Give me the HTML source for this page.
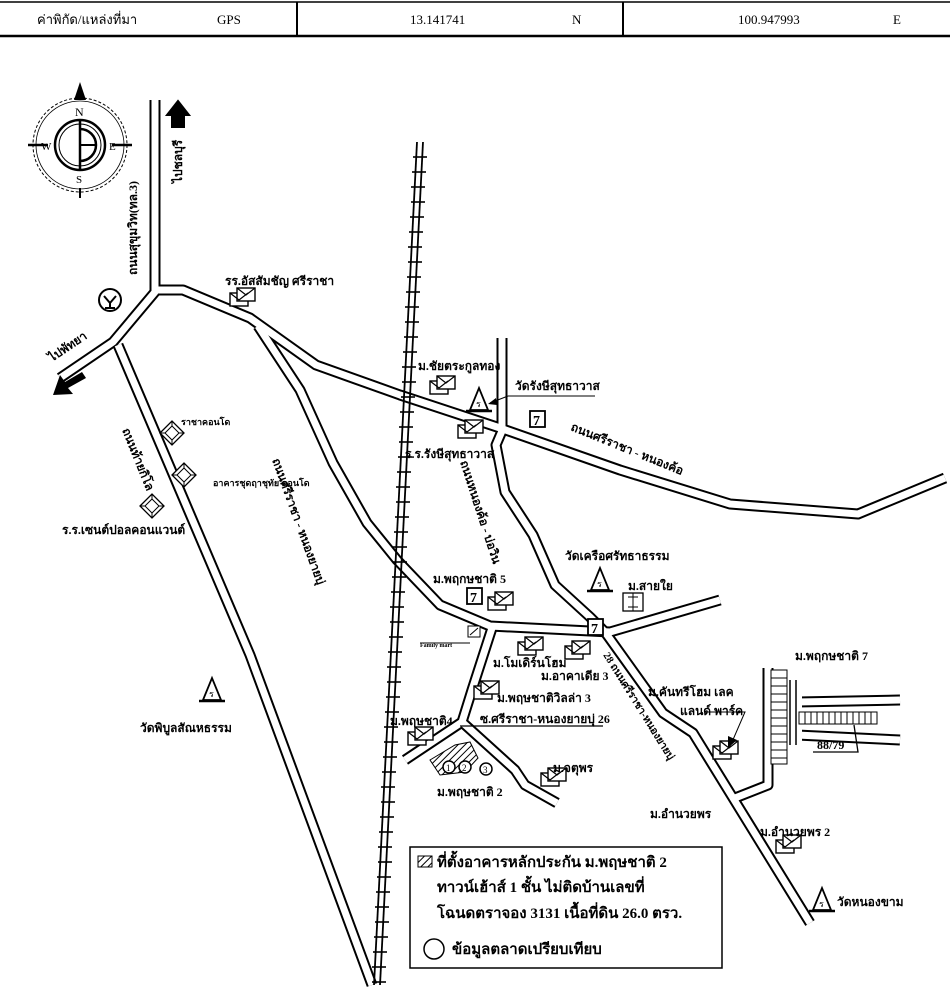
<!DOCTYPE html>
<html><head><meta charset="utf-8"><style>
html,body{margin:0;padding:0;background:#fff;}
svg{display:block;}
text{font-family:"Liberation Serif","Noto Serif CJK SC","Noto Sans CJK SC",serif;fill:#000;}
.t{font-size:12px;font-weight:bold;}
.s{font-size:9px;font-weight:bold;}
.h{font-size:13px;}
.rdo{fill:none;stroke:#000;stroke-width:11;stroke-linejoin:round;}
.rdi{fill:none;stroke:#fff;stroke-width:7;stroke-linejoin:round;}
</style></head><body>
<svg width="950" height="996" viewBox="0 0 950 996" xmlns="http://www.w3.org/2000/svg">
<defs>
<pattern id="hat" width="5" height="5" patternUnits="userSpaceOnUse" patternTransform="rotate(45)"><line x1="0" y1="0" x2="0" y2="5" stroke="#000" stroke-width="2"/></pattern>
<g id="hs"><rect x="0" y="5" width="18" height="13" fill="#fff" stroke="#000" stroke-width="1.4"/><rect x="7" y="0" width="18" height="13" fill="#fff" stroke="#000" stroke-width="1.4"/><path d="M7 0 L16 7 L25 0 M0 5 L9 12 L18 5" fill="none" stroke="#000" stroke-width="1.2"/></g>
<g id="tp"><path d="M0 22 L9 0 L18 22 Z" fill="#fff" stroke="#000" stroke-width="1.8"/><line x1="-4" y1="23" x2="22" y2="23" stroke="#000" stroke-width="2.5"/><text x="6" y="19" style="font-size:9px">ร</text></g>
<g id="sv"><rect x="0" y="0" width="15" height="16" fill="#fff" stroke="#000" stroke-width="1.8"/><text x="3" y="14" style="font-size:14px;font-weight:bold">7</text></g>
<g id="cd"><path d="M0 12 L12 0 L24 12 L12 24 Z" fill="#fff" stroke="#000" stroke-width="1.3"/><path d="M5 12 L12 5 L19 12 L12 19 Z M0 12 L5 12 M12 0 L12 5 M24 12 L19 12 M12 24 L12 19" fill="none" stroke="#000"/></g>
</defs>

<!-- header -->
<line x1="0" y1="2" x2="950" y2="2" stroke="#000" stroke-width="1.5"/>
<line x1="0" y1="36" x2="950" y2="36" stroke="#000" stroke-width="2.5"/>
<line x1="297" y1="2" x2="297" y2="36" stroke="#000" stroke-width="2"/>
<line x1="623" y1="2" x2="623" y2="36" stroke="#000" stroke-width="2"/>
<text x="37" y="24" class="h">ค่าพิกัด/แหล่งที่มา</text>
<text x="217" y="24" class="h">GPS</text>
<text x="410" y="24" class="h">13.141741</text>
<text x="572" y="24" class="h">N</text>
<text x="738" y="24" class="h">100.947993</text>
<text x="893" y="24" class="h">E</text>

<!-- compass -->
<g stroke="#000" fill="none">
<circle cx="80" cy="145" r="47" stroke-dasharray="3 2"/>
<circle cx="80" cy="145" r="44" stroke-width="0.8"/>
<circle cx="80" cy="145" r="25" stroke-width="2.5"/>
<circle cx="80" cy="145" r="21"/>
<line x1="80" y1="120" x2="80" y2="170" stroke-width="2.5"/>
<line x1="28" y1="145" x2="48" y2="145" stroke-width="2.5"/>
<line x1="112" y1="145" x2="132" y2="145" stroke-width="2.5"/>
<line x1="80" y1="188" x2="80" y2="198" stroke-width="2"/>
<path d="M80 129 A16 16 0 1 1 80 161" stroke-width="2.5"/>
<line x1="80" y1="145" x2="96" y2="145" stroke-width="2"/>
</g>
<path d="M74 100 L80 82 L86 100 Z" fill="#000"/>
<text x="75" y="116" style="font-size:12px">N</text>
<text x="41" y="150" style="font-size:11px">W</text>
<text x="109" y="150" style="font-size:11px">E</text>
<text x="76" y="183" style="font-size:11px">S</text>

<!-- roads -->
<g>
<polyline class="rdo" points="155,100 155,292 113,342 60,378"/>
<polyline class="rdo" points="155,290 183,290 250,318 316,365 400,395 500,428 620,470 730,504 858,514 945,478"/>
<polyline class="rdo" points="118,345 250,655 372,985"/>
<polyline class="rdo" points="258,326 300,390 333,463 367,523 397,560 440,605 490,626 610,632 720,600"/>
<polyline class="rdo" points="502,338 502,431 496,445 505,492 533,535 555,585 590,617 605,632 663,713 693,733 810,923"/>
<polyline class="rdo" points="492,628 472,690 462,722 405,760"/>
<polyline class="rdo" points="462,722 515,770 525,785 557,803"/>
<polyline class="rdo" points="768,668 768,785 735,798"/>
<polyline class="rdo" points="797,702 900,700"/>
<polyline class="rdo" points="797,735 900,740"/>

<polyline class="rdi" points="155,100 155,292 113,342 60,378"/>
<polyline class="rdi" points="155,290 183,290 250,318 316,365 400,395 500,428 620,470 730,504 858,514 945,478"/>
<polyline class="rdi" points="118,345 250,655 372,985"/>
<polyline class="rdi" points="258,326 300,390 333,463 367,523 397,560 440,605 490,626 610,632 720,600"/>
<polyline class="rdi" points="502,338 502,431 496,445 505,492 533,535 555,585 590,617 605,632 663,713 693,733 810,923"/>
<polyline class="rdi" points="492,628 472,690 462,722 405,760"/>
<polyline class="rdi" points="462,722 515,770 525,785 557,803"/>
<polyline class="rdi" points="768,668 768,785 735,798"/>
<polyline class="rdi" points="797,702 900,700"/>
<polyline class="rdi" points="797,735 900,740"/>
</g>
<rect x="790" y="692" width="12" height="56" fill="#fff"/>
<line x1="796" y1="680" x2="796" y2="745" stroke="#000" stroke-width="1.5"/>
<line x1="790" y1="680" x2="790" y2="745" stroke="#000" stroke-width="1.5"/>

<!-- hatched blocks P7 -->
<rect x="771" y="670" width="16" height="94" fill="#fff" stroke="#000"/>
<g stroke="#000"><line x1="771" y1="678" x2="787" y2="678"/><line x1="771" y1="686" x2="787" y2="686"/><line x1="771" y1="694" x2="787" y2="694"/><line x1="771" y1="702" x2="787" y2="702"/><line x1="771" y1="710" x2="787" y2="710"/><line x1="771" y1="718" x2="787" y2="718"/><line x1="771" y1="726" x2="787" y2="726"/><line x1="771" y1="734" x2="787" y2="734"/><line x1="771" y1="742" x2="787" y2="742"/><line x1="771" y1="750" x2="787" y2="750"/><line x1="771" y1="758" x2="787" y2="758"/></g>
<rect x="799" y="712" width="78" height="12" fill="#fff" stroke="#000"/>
<g stroke="#000"><line x1="805" y1="712" x2="805" y2="724"/><line x1="811" y1="712" x2="811" y2="724"/><line x1="817" y1="712" x2="817" y2="724"/><line x1="823" y1="712" x2="823" y2="724"/><line x1="829" y1="712" x2="829" y2="724"/><line x1="835" y1="712" x2="835" y2="724"/><line x1="841" y1="712" x2="841" y2="724"/><line x1="847" y1="712" x2="847" y2="724"/><line x1="853" y1="712" x2="853" y2="724"/><line x1="859" y1="712" x2="859" y2="724"/><line x1="865" y1="712" x2="865" y2="724"/><line x1="871" y1="712" x2="871" y2="724"/></g>
<polyline points="854,725 858,752 813,752" fill="none" stroke="#000" stroke-width="1.3"/>
<text x="817" y="749" class="t">88/79</text>

<!-- railway -->
<line x1="417" y1="142" x2="374" y2="985" stroke="#000" stroke-width="1.8"/>
<line x1="423" y1="142" x2="380" y2="985" stroke="#000" stroke-width="1.8"/>

<!-- site hatched -->
<path d="M430 760 L455 745 L470 742 L478 758 L465 772 L440 775 Z" fill="url(#hat)" stroke="#000"/>
<circle cx="449" cy="767" r="6" fill="#fff" stroke="#000" stroke-width="1.5"/><text x="446" y="771" style="font-size:9px">1</text>
<circle cx="465" cy="767" r="6" fill="#fff" stroke="#000" stroke-width="1.5"/><text x="462" y="771" style="font-size:9px">2</text>
<circle cx="486" cy="769" r="6" fill="#fff" stroke="#000" stroke-width="1.5"/><text x="483" y="773" style="font-size:9px">3</text>
<line x1="460" y1="726" x2="603" y2="726" stroke="#000" stroke-width="1.3"/>

<!-- arrows -->
<path d="M172 127 L172 115 L167 115 L178 101 L189 115 L184 115 L184 127 Z" fill="#000" stroke="#000" stroke-width="2"/>
<path d="M82 372 L65 382 L60 375 L53 395 L73 394 L68 388 L86 378 Z" fill="#000"/>

<!-- logo -->
<circle cx="110" cy="300" r="11" fill="#fff" stroke="#000" stroke-width="2"/>
<path d="M104 296 L110 303 L116 296 M110 303 L110 308 M105 308 L115 308" stroke="#000" stroke-width="2" fill="none"/>

<!-- icons -->
<use href="#hs" x="230" y="288"/>
<use href="#hs" x="430" y="376"/>
<use href="#hs" x="458" y="420"/>
<use href="#hs" x="488" y="592"/>
<use href="#hs" x="518" y="637"/>
<use href="#hs" x="565" y="641"/>
<use href="#hs" x="474" y="681"/>
<use href="#hs" x="408" y="727"/>
<use href="#hs" x="541" y="768"/>
<use href="#hs" x="713" y="741"/>
<use href="#hs" x="776" y="835"/>
<use href="#tp" x="470" y="388"/>
<use href="#tp" x="591" y="568"/>
<use href="#tp" x="203" y="678"/>
<use href="#tp" x="813" y="888"/>
<use href="#sv" x="530" y="411"/>
<use href="#sv" x="467" y="588"/>
<use href="#sv" x="588" y="619"/>
<rect x="623" y="593" width="20" height="18" fill="#fff" stroke="#000" stroke-width="1.3"/><path d="M633 593 L633 611 M628 597 L638 597 M628 607 L638 607" stroke="#000"/>
<rect x="468" y="626" width="12" height="11" fill="#fff" stroke="#000"/><line x1="470" y1="635" x2="478" y2="628" stroke="#000"/>
<line x1="420" y1="643" x2="470" y2="643" stroke="#000"/>
<use href="#cd" x="160" y="421"/>
<use href="#cd" x="172" y="463"/>
<use href="#cd" x="140" y="494"/>
<!-- pointer arrows -->
<line x1="490" y1="403" x2="508" y2="396" stroke="#000"/><line x1="508" y1="396" x2="595" y2="396" stroke="#000"/>
<path d="M488 404 L496 398 L497 405 Z" fill="#000"/>
<polyline points="708,712 745,712 732,742" fill="none" stroke="#000"/>
<path d="M728 748 L728 736 L737 740 Z" fill="#000"/>

<!-- labels -->
<text x="225" y="285" class="t">รร.อัสสัมชัญ ศรีราชา</text>
<text x="418" y="370" class="t">ม.ชัยตระกูลทอง</text>
<text x="515" y="390" class="t">วัดรังษีสุทธาวาส</text>
<text x="405" y="458" class="t">ร.ร.รังษีสุทธาวาส</text>
<text x="0" y="0" class="t" transform="translate(570,430) rotate(22)">ถนนศรีราชา - หนองค้อ</text>
<text x="181" y="425" class="s">ราชาคอนโด</text>
<text x="213" y="486" class="s">อาคารชุดฤาชุทัย คอนโด</text>
<text x="62" y="534" class="t">ร.ร.เซนต์ปอลคอนแวนต์</text>
<text x="0" y="0" class="t" transform="translate(122,430) rotate(68)">ถนนท้ายกิโล</text>
<text x="0" y="0" class="t" transform="translate(272,460) rotate(70)">ถนนศรีราชา - หนองยายบุ่</text>
<text x="0" y="0" class="t" transform="translate(137,275) rotate(-90)">ถนนสุขุมวิท(ทล.3)</text>
<text x="0" y="0" class="t" transform="translate(182,183) rotate(-90)">ไปชลบุรี</text>
<text x="0" y="0" class="t" transform="translate(52,362) rotate(-34)">ไปพัทยา</text>
<text x="0" y="0" class="t" transform="translate(460,462) rotate(72)">ถนนหนองค้อ - บ่อวิน</text>
<text x="565" y="560" class="t">วัดเครือศรัทธาธรรม</text>
<text x="628" y="590" class="t">ม.สายใย</text>
<text x="433" y="583" class="t">ม.พฤกษชาติ 5</text>
<text x="420" y="647" style="font-size:6px;font-weight:bold">Family mart</text>
<text x="493" y="667" class="t">ม.โมเดิร์นโฮม</text>
<text x="541" y="680" class="t">ม.อาคาเดีย 3</text>
<text x="497" y="702" class="t">ม.พฤษชาติวิลล่า 3</text>
<text x="480" y="723" class="t">ซ.ศรีราชา-หนองยายบุ่ 26</text>
<text x="390" y="725" class="t">ม.พฤษชาติ4</text>
<text x="437" y="796" class="t">ม.พฤษชาติ 2</text>
<text x="553" y="772" class="t">ม.จตุพร</text>
<text x="0" y="0" transform="translate(603,655) rotate(58)" style="font-size:10.5px;font-weight:bold">28 ถนนศรีราชา-หนองยายบุ่</text>
<text x="648" y="696" class="t">ม.คันทรีโฮม เลค</text>
<text x="680" y="715" class="t">แลนด์  พาร์ค</text>
<text x="795" y="660" class="t">ม.พฤกษชาติ 7</text>
<text x="650" y="818" class="t">ม.อำนวยพร</text>
<text x="760" y="836" class="t">ม.อำนวยพร 2</text>
<text x="837" y="906" class="t">วัดหนองขาม</text>
<text x="140" y="732" class="t">วัดพิบูลสัณหธรรม</text>

<!-- legend -->
<rect x="410" y="847" width="312" height="121" fill="#fff" stroke="#000" stroke-width="1.5"/>
<rect x="418" y="856" width="14" height="11" fill="url(#hat)" stroke="#000"/>
<text x="437" y="867" style="font-size:15px;font-weight:bold">ที่ตั้งอาคารหลักประกัน ม.พฤษชาติ 2</text>
<text x="437" y="892" style="font-size:15px;font-weight:bold">ทาวน์เฮ้าส์ 1 ชั้น ไม่ติดบ้านเลขที่</text>
<text x="437" y="918" style="font-size:15px;font-weight:bold">โฉนดตราจอง 3131 เนื้อที่ดิน 26.0 ตรว.</text>
<circle cx="434" cy="949" r="10" fill="#fff" stroke="#000" stroke-width="1.5"/>
<text x="452" y="954" style="font-size:15px;font-weight:bold">ข้อมูลตลาดเปรียบเทียบ</text>

<!-- railway ties -->
<g stroke="#000" stroke-width="1.6">
<line x1="413" y1="157" x2="427" y2="157"/><line x1="412" y1="172" x2="426" y2="172"/><line x1="411" y1="187" x2="425" y2="187"/><line x1="411" y1="202" x2="425" y2="202"/><line x1="410" y1="217" x2="424" y2="217"/><line x1="409" y1="232" x2="423" y2="232"/><line x1="408" y1="247" x2="422" y2="247"/><line x1="408" y1="262" x2="422" y2="262"/><line x1="407" y1="277" x2="421" y2="277"/><line x1="406" y1="292" x2="420" y2="292"/><line x1="405" y1="307" x2="419" y2="307"/><line x1="405" y1="322" x2="419" y2="322"/><line x1="404" y1="337" x2="418" y2="337"/><line x1="403" y1="352" x2="417" y2="352"/><line x1="402" y1="367" x2="416" y2="367"/><line x1="402" y1="382" x2="416" y2="382"/><line x1="401" y1="397" x2="415" y2="397"/><line x1="400" y1="412" x2="414" y2="412"/><line x1="399" y1="427" x2="413" y2="427"/><line x1="399" y1="442" x2="413" y2="442"/><line x1="398" y1="457" x2="412" y2="457"/><line x1="397" y1="472" x2="411" y2="472"/><line x1="396" y1="487" x2="410" y2="487"/><line x1="396" y1="502" x2="410" y2="502"/><line x1="395" y1="517" x2="409" y2="517"/><line x1="394" y1="532" x2="408" y2="532"/><line x1="393" y1="547" x2="407" y2="547"/><line x1="393" y1="562" x2="407" y2="562"/><line x1="392" y1="577" x2="406" y2="577"/><line x1="391" y1="592" x2="405" y2="592"/><line x1="390" y1="607" x2="404" y2="607"/><line x1="390" y1="622" x2="404" y2="622"/><line x1="389" y1="637" x2="403" y2="637"/><line x1="388" y1="652" x2="402" y2="652"/><line x1="387" y1="667" x2="401" y2="667"/><line x1="387" y1="682" x2="401" y2="682"/><line x1="386" y1="697" x2="400" y2="697"/><line x1="385" y1="712" x2="399" y2="712"/><line x1="384" y1="727" x2="398" y2="727"/><line x1="384" y1="742" x2="398" y2="742"/><line x1="383" y1="757" x2="397" y2="757"/><line x1="382" y1="772" x2="396" y2="772"/><line x1="381" y1="787" x2="395" y2="787"/><line x1="381" y1="802" x2="395" y2="802"/><line x1="380" y1="817" x2="394" y2="817"/><line x1="379" y1="832" x2="393" y2="832"/><line x1="378" y1="847" x2="392" y2="847"/><line x1="378" y1="862" x2="392" y2="862"/><line x1="377" y1="877" x2="391" y2="877"/><line x1="376" y1="892" x2="390" y2="892"/><line x1="375" y1="907" x2="389" y2="907"/><line x1="375" y1="922" x2="389" y2="922"/><line x1="374" y1="937" x2="388" y2="937"/><line x1="373" y1="952" x2="387" y2="952"/><line x1="372" y1="967" x2="386" y2="967"/><line x1="372" y1="982" x2="386" y2="982"/>
</g>
</svg>
</body></html>
